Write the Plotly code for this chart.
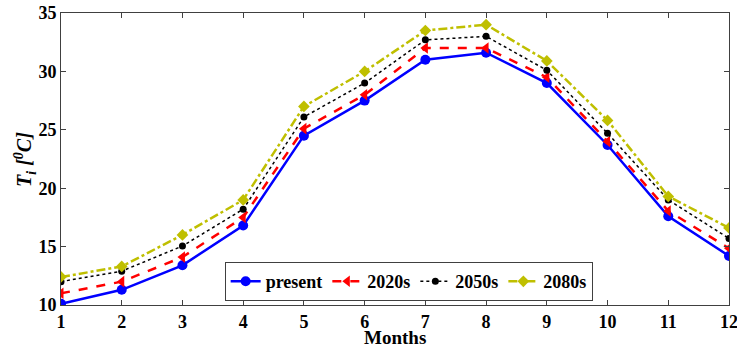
import plotly.graph_objects as go

months = [1, 2, 3, 4, 5, 6, 7, 8, 9, 10, 11, 12]
present = [10.1, 11.3, 13.4, 16.8, 24.5, 27.5, 31.0, 31.6, 29.0, 23.7, 17.6, 14.2]
s2020 = [11.0, 12.0, 14.1, 17.5, 25.1, 28.0, 32.0, 32.0, 29.5, 24.0, 18.05, 14.85]
s2050 = [12.0, 12.9, 15.05, 18.2, 26.1, 29.0, 32.7, 33.0, 30.1, 24.7, 19.0, 15.7]
s2080 = [12.4, 13.3, 16.0, 19.0, 27.0, 30.0, 33.5, 34.0, 30.9, 25.8, 19.3, 16.6]
series_names = ["present", "2020s", "2050s", "2080s"]
y_ticks = [10, 15, 20, 25, 30, 35]
x_title = "<b>Months</b>"
y_title = "<b><i>T<sub>i</sub> [<sup>0</sup>C]</i></b>"

font_fam = "Liberation Serif"
tick_font = dict(family=font_fam, size=18, color="black", weight="bold")
legend_font = dict(family=font_fam, size=18, color="black", weight="bold")

fig = go.Figure()
fig.add_trace(go.Scatter(x=months, y=present, name=series_names[0], mode="lines+markers",
                         line=dict(color="#0000ff", width=2.5, dash="solid"),
                         marker=dict(symbol="circle", size=10, color="#0000ff")))
fig.add_trace(go.Scatter(x=months, y=s2020, name=series_names[1], mode="lines+markers",
                         line=dict(color="#ff0000", width=2.5, dash="dash"),
                         marker=dict(symbol="triangle-left", size=10, color="#ff0000")))
fig.add_trace(go.Scatter(x=months, y=s2050, name=series_names[2], mode="lines+markers",
                         line=dict(color="#000000", width=1.5, dash="dot"),
                         marker=dict(symbol="circle", size=7, color="#000000")))
fig.add_trace(go.Scatter(x=months, y=s2080, name=series_names[3], mode="lines+markers",
                         line=dict(color="#bfbf00", width=2.5, dash="dashdot"),
                         marker=dict(symbol="diamond", size=9, color="#bfbf00")))

axis_common = dict(showline=True, mirror="ticks", linecolor="#404040", linewidth=1,
                   ticks="inside", ticklen=5, tickcolor="#404040", showgrid=False, zeroline=False,
                   tickfont=tick_font, ticklabeloverflow="allow")

fig.update_xaxes(range=[1, 12], tickvals=months, **axis_common)
fig.update_yaxes(range=[10, 35], tickvals=y_ticks, **axis_common)

fig.add_annotation(text=x_title, xref="paper", yref="paper", x=0.5, y=-0.151,
                   xanchor="center", yanchor="bottom", showarrow=False, borderpad=0,
                   font=dict(family=font_fam, size=19, color="black"))
fig.add_annotation(text=y_title, xref="paper", yref="paper", x=-0.054, y=0.5,
                   xanchor="center", yanchor="middle", showarrow=False, textangle=-90,
                   font=dict(family=font_fam, size=20, color="black"))

fig.update_layout(
    width=737, height=351,
    font=dict(family=font_fam, color="black"),
    margin=dict(l=61, r=8, t=13, b=46, autoexpand=False),
    plot_bgcolor="white", paper_bgcolor="white",
    legend=dict(orientation="h", x=0.245, y=0.147, xanchor="left", yanchor="top",
                bordercolor="#404040", borderwidth=1, bgcolor="white",
                font=legend_font, tracegroupgap=0),
    showlegend=True,
)

fig.write_html("out.html", config={"displayModeBar": False},
               post_script="document.body.style.margin='0';document.body.style.overflow='hidden';")
